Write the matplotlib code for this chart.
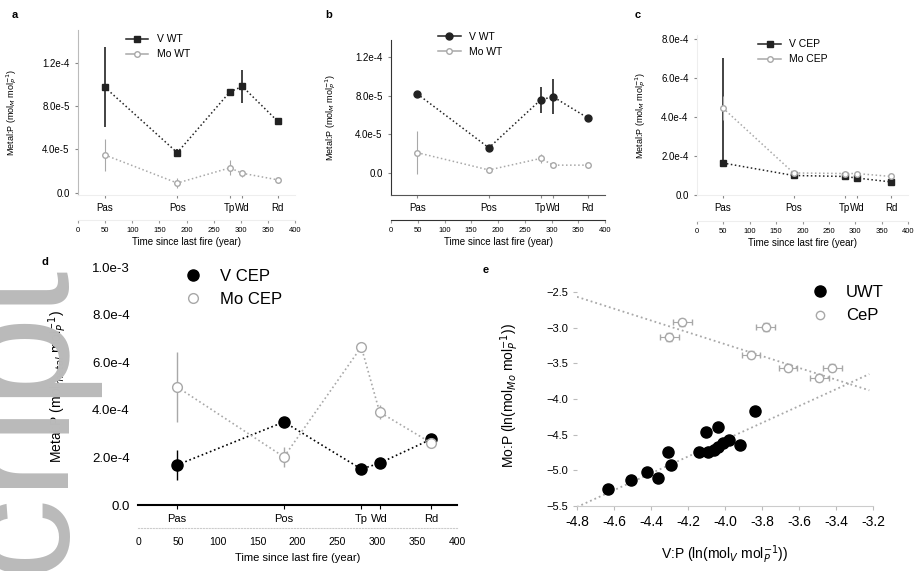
import numpy as np
import matplotlib
matplotlib.use('Agg')
import matplotlib.pyplot as plt
from matplotlib.ticker import FuncFormatter
from matplotlib.lines import Line2D

plt.rcParams['font.family'] = ['Liberation Sans', 'DejaVu Sans']

# sites along the fire chronosequence (years since last fire)
site_years = [49, 183, 280, 303, 368]
site_names = ['Pas', 'Pos', 'Tp', 'Wd', 'Rd']
year_ticks = [0, 50, 100, 150, 200, 250, 300, 350, 400]

# a
a_v = [9.75e-5, 3.7e-5, 9.3e-5, 9.8e-5, 6.6e-5]
a_v_err = [3.7e-5, 0.3e-5, 0.3e-5, 1.5e-5, 0.3e-5]
a_mo = [3.5e-5, 0.9e-5, 2.3e-5, 1.8e-5, 1.2e-5]
a_mo_err = [1.5e-5, 0.5e-5, 0.7e-5, 0.3e-5, 0.3e-5]

# b
b_v = [8.2e-5, 2.6e-5, 7.6e-5, 7.9e-5, 5.7e-5]
b_v_err = [0.2e-5, 0.3e-5, 1.35e-5, 1.8e-5, 0.2e-5]
b_mo = [2.1e-5, 0.3e-5, 1.5e-5, 0.8e-5, 0.8e-5]
b_mo_err = [2.2e-5, 0.3e-5, 0.5e-5, 0.3e-5, 0.2e-5]

# c
c_v = [1.64e-4, 1.0e-4, 0.95e-4, 0.87e-4, 0.67e-4]
c_v_err_hi = [5.4e-4, 0.0, 0.0, 0.0, 0.0]
c_mo = [4.46e-4, 1.13e-4, 1.10e-4, 1.10e-4, 0.95e-4]
c_mo_err = [0.6e-4, 0.1e-4, 0.1e-4, 0.1e-4, 0.1e-4]

# d
d_v = [1.68e-4, 3.49e-4, 1.51e-4, 1.76e-4, 2.77e-4]
d_v_err = [0.63e-4, 0.1e-4, 0.0, 0.05e-4, 0.05e-4]
d_mo = [4.96e-4, 2.02e-4, 6.64e-4, 3.9e-4, 2.6e-4]
d_mo_err = [1.47e-4, 0.42e-4, 0.2e-4, 0.3e-4, 0.1e-4]

# e: ln(V:P) vs ln(Mo:P)
uwt_x = [-4.63, -4.51, -4.42, -4.36, -4.31, -4.29, -4.14, -4.10, -4.09, -4.06,
         -4.04, -4.04, -4.01, -3.98, -3.92, -3.84]
uwt_y = [-5.26, -5.14, -5.02, -5.11, -4.74, -4.92, -4.74, -4.46, -4.74, -4.71,
         -4.39, -4.67, -4.62, -4.57, -4.64, -4.17]
cep_x = [-4.23, -4.30, -3.78, -3.86, -3.66, -3.49, -3.42]
cep_y = [-2.92, -3.13, -2.99, -3.38, -3.56, -3.70, -3.56]
uwt_fit = (1.18, 0.15)
cep_fit = (-0.83, -6.55)

W, H = 915, 571
fig = plt.figure(figsize=(W / 100, H / 100), dpi=100)


def rect(l, t, r, b):
    return [l / W, 1 - b / H, (r - l) / W, (b - t) / H]


def sci(v, pos):
    if abs(v) < 1e-12:
        return '0.0'
    m, e = f'{v:.1e}'.split('e')
    return f'{m}e{int(e)}'


grey = '#a8a8a8'
ylab = 'Metal:P (mol$_M$ mol$_P^{-1}$)'


def time_panel(r, v, v_err, mo, mo_err, yticks, ylim, vmark, sec_loc,
               leftc, botc, secc, vlab, molab, leg_anchor, ylab_x):
    ax = fig.add_axes(r)
    ax.errorbar(site_years, v, yerr=v_err, color='#222222', marker=vmark, ms=5,
                lw=1.1, ls=':', capsize=0, elinewidth=1.2, label=vlab)
    ax.errorbar(site_years, mo, yerr=mo_err, color=grey, marker='o', ms=4,
                mfc='white', lw=1.1, ls=':', capsize=0, elinewidth=0.8, label=molab)
    ax.set_xlim(0, 400)
    ax.set_ylim(*ylim)
    ax.set_yticks(yticks)
    ax.yaxis.set_major_formatter(FuncFormatter(sci))
    ax.set_xticks(site_years, site_names)
    ax.tick_params(labelsize=7, length=2.5, color='#888888')
    for s in ['top', 'right']:
        ax.spines[s].set_visible(False)
    ax.spines['left'].set_color(leftc)
    ax.spines['bottom'].set_color(botc)
    ax.set_ylabel(ylab, fontsize=6.5)
    ax.yaxis.set_label_coords(ylab_x, 0.5)
    sec = ax.secondary_xaxis(sec_loc)
    sec.set_xticks(year_ticks)
    sec.tick_params(labelsize=5.5, length=2, color='#999999')
    sec.spines['bottom'].set_color(secc)
    sec.set_xlabel('Time since last fire (year)', fontsize=7, labelpad=2)
    h = [Line2D([], [], color='#222222', marker=vmark, ms=5, lw=1.1),
         Line2D([], [], color=grey, marker='o', ms=4, mfc='white', lw=1.1)]
    ax.legend(h, [vlab, molab], loc='upper left', bbox_to_anchor=leg_anchor,
              frameon=False, fontsize=7.5, handlelength=2.2, borderaxespad=0)
    return ax


time_panel(rect(78, 30, 295, 195), a_v, a_v_err, a_mo, a_mo_err,
           [0, 4e-5, 8e-5, 1.2e-4], (-2e-6, 1.5e-4), 's', -0.15,
           '#bbbbbb', '#eeeeee', '#eeeeee', 'V WT', 'Mo WT', (0.2, 1.0), -0.27)
time_panel(rect(391, 40, 605, 195), b_v, b_v_err, b_mo, b_mo_err,
           [0, 4e-5, 8e-5, 1.2e-4], (-2.3e-5, 1.38e-4), 'o', -0.16,
           '#333333', '#555555', '#333333', 'V WT', 'Mo WT', (0.2, 1.08), -0.25)
time_panel(rect(697, 35, 908, 195), c_v, [[0] * 5, c_v_err_hi], c_mo, c_mo_err,
           [0, 2e-4, 4e-4, 6e-4, 8e-4], (0, 8.2e-4), 's', -0.16,
           '#eeeeee', '#eeeeee', '#eeeeee', 'V CEP', 'Mo CEP', (0.27, 1.0), -0.23)

# d
axd = fig.add_axes(rect(138, 267, 457, 505))
axd.errorbar(site_years, d_v, yerr=d_v_err, color='black', marker='o', ms=8,
             lw=1.2, ls=':', capsize=0, elinewidth=1)
axd.errorbar(site_years, d_mo, yerr=d_mo_err, color=grey, marker='o', ms=7,
             mfc='white', lw=1.2, ls=':', capsize=0, elinewidth=1)
axd.set_xlim(0, 400)
axd.set_ylim(0, 1.0e-3)
axd.set_yticks([0, 2e-4, 4e-4, 6e-4, 8e-4, 1e-3])
axd.yaxis.set_major_formatter(FuncFormatter(sci))
axd.set_xticks(site_years, site_names)
axd.tick_params(labelsize=8, length=3)
axd.tick_params(axis='y', length=0, labelsize=9.5, pad=6)
for s in ['top', 'right', 'left']:
    axd.spines[s].set_visible(False)
axd.spines['bottom'].set_linewidth(1.5)
axd.set_ylabel('Metal:P (mol$_{metal}$ mol$_P^{-1}$)', fontsize=10)
axd.yaxis.set_label_coords(-0.215, 0.5)
secd = axd.secondary_xaxis(-0.095)
secd.set_xticks(year_ticks)
secd.tick_params(labelsize=7.5, length=0, pad=7)
secd.spines['bottom'].set_color('#cccccc')
secd.spines['bottom'].set_linestyle(':')
secd.set_xlabel('Time since last fire (year)', fontsize=8, labelpad=4)
hd = [Line2D([], [], color='black', marker='o', ms=8, ls='none'),
      Line2D([], [], color=grey, marker='o', ms=7, mfc='white', ls='none')]
axd.legend(hd, ['V CEP', 'Mo CEP'], loc='upper left', bbox_to_anchor=(0.12, 1.02),
           frameon=False, fontsize=12, handlelength=1.2, handletextpad=1.0,
           borderaxespad=0)

# e
axe = fig.add_axes(rect(577, 285, 873, 506))
xs = np.array([-4.8, -3.22])
axe.plot(xs, uwt_fit[0] * xs + uwt_fit[1], ls=':', color=grey, lw=1.3)
axe.plot(xs, cep_fit[0] * xs + cep_fit[1], ls=':', color=grey, lw=1.3)
axe.plot(uwt_x, uwt_y, 'o', color='black', ms=8, ls='none')
axe.errorbar(cep_x, cep_y, xerr=0.05, yerr=0.05, fmt='o', color=grey, ms=6,
             mfc='white', elinewidth=0.8, capsize=2)
axe.set_xlim(-4.8, -3.2)
axe.set_ylim(-5.5, -2.4)
axe.set_xticks(np.arange(-4.8, -3.19, 0.2))
axe.xaxis.set_major_formatter(FuncFormatter(lambda v, p: f'{v:.1f}'))
axe.set_yticks(np.arange(-5.5, -2.49, 0.5))
axe.tick_params(axis='x', labelsize=10, length=3, color='#bbbbbb')
axe.tick_params(axis='y', labelsize=8, length=3, color='#bbbbbb')
for s in ['top', 'right', 'left']:
    axe.spines[s].set_visible(False)
axe.spines['bottom'].set_color('#cccccc')
axe.set_xlabel('V:P (ln(mol$_V$ mol$_P^{-1}$))', fontsize=10, labelpad=10)
axe.set_ylabel('Mo:P (ln(mol$_{Mo}$ mol$_P^{-1}$))', fontsize=10)
axe.yaxis.set_label_coords(-0.19, 0.5)
he = [Line2D([], [], color='black', marker='o', ms=8, ls='none'),
      Line2D([], [], color=grey, marker='o', ms=6, mfc='white', ls='none')]
axe.legend(he, ['UWT', 'CeP'], loc='upper right', bbox_to_anchor=(1.06, 1.03),
           frameon=False, fontsize=12, handlelength=1.2, handletextpad=1.0,
           borderaxespad=0)

for lab, x, y in [('a', 12, 15), ('b', 325, 15), ('c', 635, 15),
                  ('d', 42, 262), ('e', 483, 270)]:
    fig.text(x / W, 1 - y / H, lab, fontsize=8, fontweight='bold', va='center')

# watermark left over from the accepted-manuscript page
fig.text(62 / W, -2 / H, 'cript', rotation=90, rotation_mode='anchor',
         ha='left', va='baseline', fontsize=118, color='#bababa')

fig.savefig('out.png', dpi=100)
